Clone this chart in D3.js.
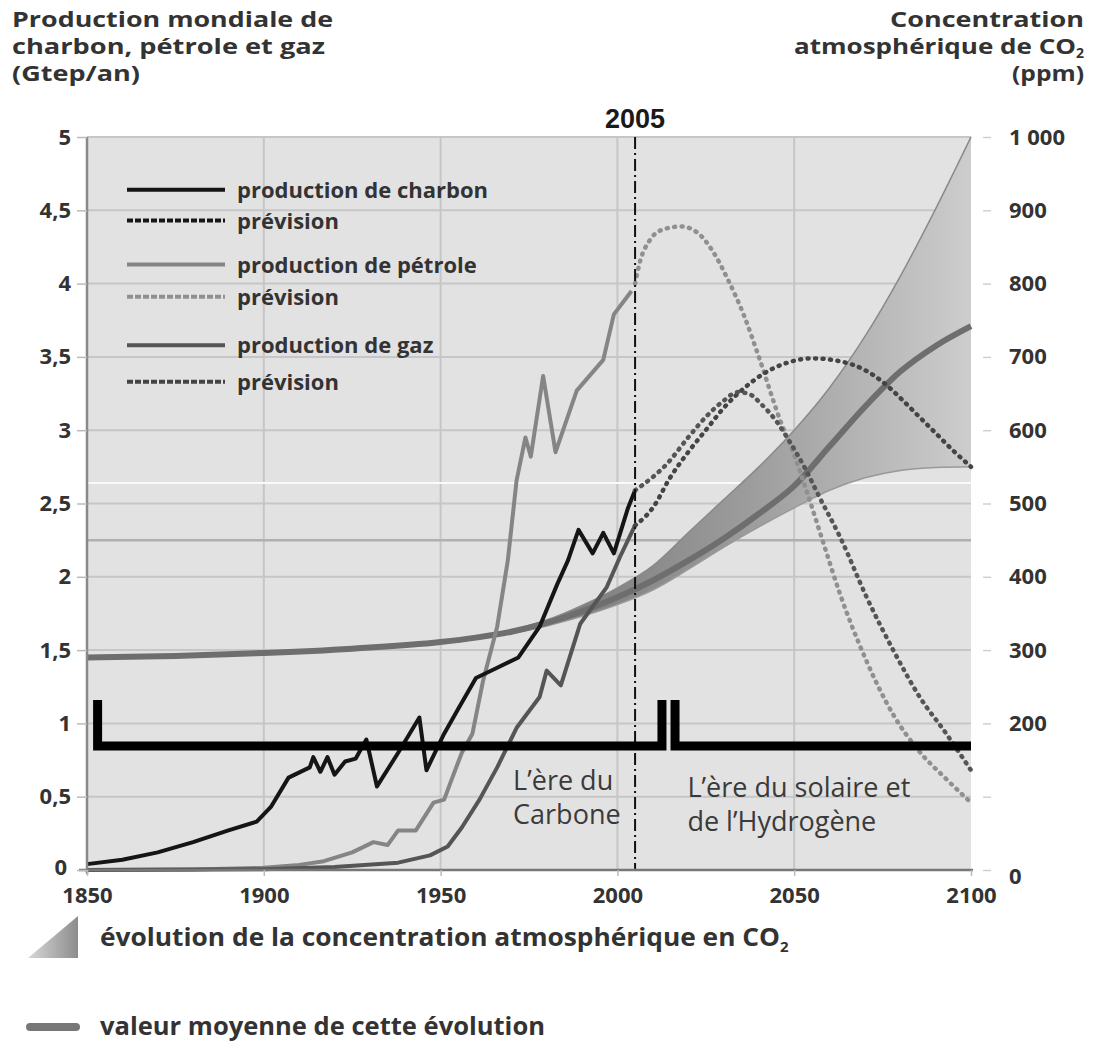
<!DOCTYPE html>
<html><head><meta charset="utf-8">
<script src="https://cdn.jsdelivr.net/npm/d3@7"></script>
<style>
html,body{margin:0;padding:0;background:#fff;}
svg{display:block;font-family:"Open Sans","Noto Sans",sans-serif;}
.t{font-weight:700;fill:#333;}
.num{font-family:"Open Sans","Noto Sans",sans-serif;}
</style></head><body>
<svg id="c" width="1094" height="1045"></svg>
<script>
// ---------- DATA ----------
const yearTicks = [1850,1900,1950,2000,2050,2100];
const leftTicks = [0,0.5,1,1.5,2,2.5,3,3.5,4,4.5,5];
const leftTickLabels = ["0","0,5","1","1,5","2","2,5","3","3,5","4","4,5","5"];
const rightTicks = [0,100,200,300,400,500,600,700,800,900,1000];
const rightTickLabels = ["0","","200","300","400","500","600","700","800","900","1 000"];

const coalHist = [[1850,0.04],[1860,0.07],[1870,0.12],[1880,0.19],[1890,0.27],[1898,0.33],[1902,0.43],[1907,0.63],[1913,0.70],[1914,0.77],[1916,0.67],[1918,0.77],[1920,0.65],[1923,0.74],[1926,0.76],[1929,0.89],[1932,0.57],[1938,0.80],[1944,1.04],[1946,0.68],[1951,0.93],[1955,1.10],[1960,1.31],[1966,1.38],[1972,1.45],[1978,1.66],[1983,1.95],[1986,2.11],[1989,2.32],[1993,2.16],[1996,2.30],[1999,2.16],[2003,2.47],[2005,2.59]];
const oilHist = [[1850,0],[1880,0.003],[1900,0.015],[1910,0.035],[1917,0.06],[1925,0.12],[1931,0.19],[1935,0.17],[1938,0.27],[1943,0.27],[1948,0.46],[1951,0.48],[1953,0.61],[1956,0.80],[1959,0.93],[1962,1.29],[1966,1.66],[1969,2.11],[1971.5,2.66],[1974,2.95],[1975.5,2.82],[1979,3.37],[1982.5,2.85],[1988.5,3.27],[1996,3.48],[1999,3.79],[2004,3.95]];
const gasHist = [[1850,0],[1900,0.005],[1920,0.02],[1938,0.05],[1947,0.10],[1952,0.16],[1956,0.29],[1961,0.48],[1966,0.70],[1971.5,0.97],[1978,1.18],[1980,1.36],[1984,1.26],[1989.5,1.68],[1997,1.93],[2001,2.15],[2005,2.35]];

const coalForecast = [[2005,2.59],[2010,2.68],[2014,2.77],[2020,2.95],[2025,3.09],[2030,3.2],[2034,3.26],[2037,3.25],[2041,3.17],[2045,3.06],[2048,2.95],[2053.5,2.72],[2057,2.55],[2063,2.27],[2070.5,1.86],[2078,1.5],[2085.5,1.18],[2093,0.93],[2100,0.68]];
const oilForecast = [[2005,4.0],[2006.5,4.16],[2009,4.29],[2013,4.37],[2018,4.39],[2023,4.34],[2027,4.22],[2031,4.04],[2036,3.77],[2040,3.5],[2046,3.07],[2050,2.83],[2054,2.55],[2058,2.25],[2063,1.88],[2070,1.45],[2078,1.06],[2085,0.82],[2093,0.62],[2100,0.46]];
const gasForecast = [[2005,2.35],[2010,2.47],[2015,2.68],[2020,2.85],[2025,3.0],[2030,3.15],[2036,3.29],[2041,3.38],[2048,3.46],[2055,3.49],[2063,3.47],[2070,3.41],[2075,3.33],[2080,3.22],[2085,3.1],[2090,2.98],[2095,2.86],[2100,2.75]];

// CO2 concentration (ppm)
const co2Mean = [[1850,290],[1875,292],[1900,296],[1925,302],[1950,311],[1960,317],[1970,325],[1980,337],[1990,353],[2000,372],[2010,395],[2020,422],[2030,452],[2040,486],[2050,524],[2060,578],[2070,632],[2080,680],[2090,715],[2100,742]];
const co2Upper = [[1970,327],[1980,341],[1990,361],[2000,385],[2010,415],[2020,460],[2030,505],[2040,550],[2050,600],[2060,658],[2070,728],[2080,810],[2090,902],[2100,1000]];
const co2Lower = [[1970,323],[1980,333],[1990,346],[2000,362],[2010,382],[2020,410],[2030,440],[2040,468],[2050,494],[2060,518],[2070,535],[2080,545],[2090,549],[2100,550]];

// era brackets (year, Gtep)
const eraCarbon = [[1853,1.16],[1853,0.845],[2012.6,0.845],[2012.6,1.16]];
const eraSolar = [[2016.3,1.16],[2016.3,0.845],[2100,0.845]];
const markYear = 2005;

// ---------- SCALES ----------
const svg = d3.select("#c");
const x = d3.scaleLinear().domain([1850,2100]).range([87,971]);
const y = d3.scaleLinear().domain([0,5]).range([870,137]);
const yR = d3.scaleLinear().domain([0,1000]).range([870,137]);

const defs = svg.append("defs");
const g1 = defs.append("linearGradient").attr("id","band").attr("gradientUnits","userSpaceOnUse")
  .attr("x1",x(1985)).attr("x2",x(2100)).attr("y1",0).attr("y2",0);
g1.append("stop").attr("offset","0").attr("stop-color","#7c7c7c");
g1.append("stop").attr("offset","0.45").attr("stop-color","#9c9c9c");
g1.append("stop").attr("offset","1").attr("stop-color","#cdcdcd");
const g2 = defs.append("linearGradient").attr("id","tri").attr("x1","0").attr("x2","1").attr("y1","0").attr("y2","0");
g2.append("stop").attr("offset","0").attr("stop-color","#d8d8d8");
g2.append("stop").attr("offset","1").attr("stop-color","#8c8c8c");

// plot background
svg.append("rect").attr("x",x(1850)).attr("y",y(5)).attr("width",x(2100)-x(1850)).attr("height",y(0)-y(5)).attr("fill","#e2e2e2");

// grid
svg.append("g").selectAll("line").data(leftTicks.slice(1)).join("line")
  .attr("x1",x(1850)).attr("x2",x(2100)).attr("y1",d=>y(d)).attr("y2",d=>y(d))
  .attr("stroke","#c6c6c6").attr("stroke-width",2);
svg.append("g").selectAll("line").data(yearTicks.slice(1,-1)).join("line")
  .attr("x1",d=>x(d)).attr("x2",d=>x(d)).attr("y1",y(5)).attr("y2",y(0))
  .attr("stroke","#c6c6c6").attr("stroke-width",2);
// scan artefact lines
svg.append("line").attr("x1",x(1850)).attr("x2",x(2100)).attr("y1",y(2.25)).attr("y2",y(2.25)).attr("stroke","#b0b0b0").attr("stroke-width",2.5);
svg.append("line").attr("x1",x(1850)).attr("x2",x(2100)).attr("y1",y(2.64)).attr("y2",y(2.64)).attr("stroke","#fafafa").attr("stroke-width",2);

// CO2 band
const area = d3.area().x(d=>x(d[0])).y0(d=>yR(d[1])).y1(d=>yR(d[2])).curve(d3.curveMonotoneX);
const bandData = co2Upper.map((d,i)=>[d[0], co2Lower[i][1], d[1]]);
svg.append("path").datum(bandData).attr("d",area).attr("fill","url(#band)");
const lineR = d3.line().x(d=>x(d[0])).y(d=>yR(d[1])).curve(d3.curveMonotoneX);
svg.append("path").datum(co2Upper).attr("d",lineR).attr("fill","none").attr("stroke","#8a8a8a").attr("stroke-width",1.5);
svg.append("path").datum(co2Lower).attr("d",lineR).attr("fill","none").attr("stroke","#999").attr("stroke-width",1.5);
svg.append("path").datum(co2Mean).attr("d",lineR).attr("fill","none").attr("stroke","#6e6e6e").attr("stroke-width",6);

// production lines
const lineL = d3.line().x(d=>x(d[0])).y(d=>y(d[1]));
const lineS = d3.line().x(d=>x(d[0])).y(d=>y(d[1])).curve(d3.curveMonotoneX);
svg.append("path").datum(oilHist).attr("d",lineL).attr("fill","none").attr("stroke","#858585").attr("stroke-width",4).attr("stroke-linejoin","round");
svg.append("path").datum(gasHist).attr("d",lineL).attr("fill","none").attr("stroke","#555").attr("stroke-width",4).attr("stroke-linejoin","round");
svg.append("path").datum(coalHist).attr("d",lineL).attr("fill","none").attr("stroke","#151515").attr("stroke-width",4).attr("stroke-linejoin","round");

const dots = "1,6.5";
svg.append("path").datum(oilForecast).attr("d",lineS).attr("fill","none").attr("stroke","#909090").attr("stroke-width",4.5).attr("stroke-dasharray",dots).attr("stroke-linecap","round");
svg.append("path").datum(gasForecast).attr("d",lineS).attr("fill","none").attr("stroke","#444").attr("stroke-width",4.5).attr("stroke-dasharray",dots).attr("stroke-linecap","round");
svg.append("path").datum(coalForecast).attr("d",lineS).attr("fill","none").attr("stroke","#555").attr("stroke-width",4.5).attr("stroke-dasharray",dots).attr("stroke-linecap","round");

// 2005 dash-dot line
svg.append("line").attr("x1",x(markYear)).attr("x2",x(markYear)).attr("y1",y(5)).attr("y2",y(0))
  .attr("stroke","#111").attr("stroke-width",2).attr("stroke-dasharray","12,4,2,4");
svg.append("text").attr("x",x(markYear)).attr("y",y(5)-9).attr("text-anchor","middle")
  .style("font-family","'Liberation Sans',Arial,sans-serif").style("font-weight","700").style("font-size","27px").attr("fill","#1a1a1a").text("2005");

// era brackets
svg.append("path").datum(eraCarbon).attr("d",lineL).attr("fill","none").attr("stroke","#000").attr("stroke-width",9).attr("stroke-linejoin","miter");
svg.append("path").datum(eraSolar).attr("d",lineL).attr("fill","none").attr("stroke","#000").attr("stroke-width",9).attr("stroke-linejoin","miter");

const eraText = svg.append("g").style("font-size","27px").attr("fill","#3a3a3a");
eraText.append("text").attr("x",x(1970.5)).attr("y",790).text("L’ère du");
eraText.append("text").attr("x",x(1970.5)).attr("y",824).text("Carbone");
eraText.append("text").attr("x",x(2019.8)).attr("y",797).text("L’ère du solaire et");
eraText.append("text").attr("x",x(2019.8)).attr("y",831).text("de l’Hydrogène");

// axes
svg.append("line").attr("x1",x(1850)).attr("x2",x(1850)).attr("y1",y(5)).attr("y2",y(0)+4).attr("stroke","#8a8a8a").attr("stroke-width",2.5);
svg.append("line").attr("x1",x(1850)-8).attr("x2",x(2100)+2).attr("y1",y(0)).attr("y2",y(0)).attr("stroke","#777").attr("stroke-width",2.5);
const axL = d3.axisLeft(y).tickValues(leftTicks).tickFormat((d,i)=>leftTickLabels[i]).tickSize(10).tickPadding(6);
const gL = svg.append("g").attr("transform",`translate(${x(1850)},0)`).call(axL);
const axR = d3.axisRight(yR).tickValues(rightTicks).tickFormat((d,i)=>rightTickLabels[i]).tickSize(8).tickPadding(18);
const gR = svg.append("g").attr("transform",`translate(${x(2100)+12},0)`).call(axR);
const axB = d3.axisBottom(x).tickValues(yearTicks).tickFormat(d3.format("d")).tickSize(6).tickPadding(11);
const gB = svg.append("g").attr("transform",`translate(0,${y(0)})`).call(axB);
[gL,gR,gB].forEach(g=>{
  g.select(".domain").remove();
  g.selectAll(".tick line").attr("stroke","#bbb").attr("stroke-width",1.5);
  g.selectAll("text").attr("class","t num").style("font-size","22px").attr("fill","#333");
});
gR.selectAll(".tick line").attr("stroke","#d0d0d0");
gR.selectAll(".tick text").filter(d=>d===0).attr("dy","0.6em");
gL.selectAll(".tick text").filter(d=>d===0).attr("dy","0.2em").attr("x",-20);

// titles
const tl = svg.append("g").attr("class","t").style("font-size","21px");
const tlTxt = ["Production mondiale de","charbon, pétrole et gaz","(Gtep/an)"];
const tlW = [321,313,128];
tlTxt.forEach((s,i)=>tl.append("text").attr("x",12).attr("y",27+i*27).attr("textLength",tlW[i]).attr("lengthAdjust","spacingAndGlyphs").text(s));
const tr = svg.append("g").attr("class","t").style("font-size","21px").attr("text-anchor","end");
tr.append("text").attr("x",1084).attr("y",27).attr("textLength",194).attr("lengthAdjust","spacingAndGlyphs").text("Concentration");
const t2 = tr.append("text").attr("x",1084).attr("y",54);
t2.append("tspan").attr("textLength",282).attr("lengthAdjust","spacingAndGlyphs").text("atmosphérique de CO");
t2.append("tspan").attr("dy",4).style("font-size","14px").text("2");
tr.append("text").attr("x",1084).attr("y",81).attr("textLength",72).attr("lengthAdjust","spacingAndGlyphs").text("(ppm)");

// legend
const legend = [
 {label:"production de charbon", color:"#151515", dash:null, yv:4.64},
 {label:"prévision", color:"#151515", dash:"6,2", yv:4.43},
 {label:"production de pétrole", color:"#858585", dash:null, yv:4.13},
 {label:"prévision", color:"#909090", dash:"6,2", yv:3.91},
 {label:"production de gaz", color:"#555", dash:null, yv:3.58},
 {label:"prévision", color:"#444", dash:"6,2", yv:3.33}
];
const lg = svg.append("g");
legend.forEach(d=>{
  lg.append("line").attr("x1",127).attr("x2",225).attr("y1",y(d.yv)).attr("y2",y(d.yv))
    .attr("stroke",d.color).attr("stroke-width",4).attr("stroke-dasharray",d.dash);
  lg.append("text").attr("class","t").attr("x",237).attr("y",y(d.yv)+8).style("font-size","22px").text(d.label);
});

// bottom legend
svg.append("path").attr("d",`M28,958 L78,958 L78,916 Z`).attr("fill","url(#tri)");
const b1 = svg.append("text").attr("class","t").attr("x",100).attr("y",946).style("font-size","25px");
b1.append("tspan").attr("textLength",680).attr("lengthAdjust","spacingAndGlyphs").text("évolution de la concentration atmosphérique en CO");
b1.append("tspan").attr("dy",6).style("font-size","15px").text("2");
svg.append("line").attr("x1",30).attr("x2",76).attr("y1",1027).attr("y2",1027).attr("stroke","#777").attr("stroke-width",8).attr("stroke-linecap","round");
svg.append("text").attr("class","t").attr("x",100).attr("y",1035).style("font-size","25px").attr("textLength",445).attr("lengthAdjust","spacingAndGlyphs").text("valeur moyenne de cette évolution");
</script></body></html>
